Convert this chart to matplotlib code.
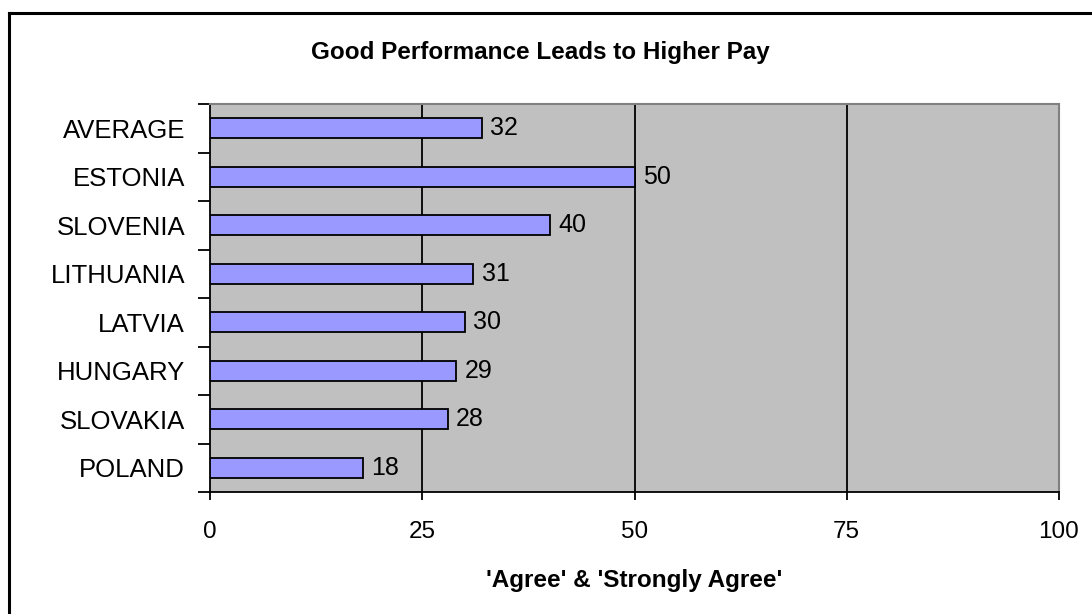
import numpy as np
import matplotlib.pyplot as plt
from matplotlib.lines import Line2D

# =========================
# DATA
# =========================
countries = ["AVERAGE", "ESTONIA", "SLOVENIA", "LITHUANIA", "LATVIA",
             "HUNGARY", "SLOVAKIA", "POLAND"]
values = [32, 50, 40, 31, 30, 29, 28, 18]
xticks = [0, 25, 50, 75, 100]

title = "Good Performance Leads to Higher Pay"
xlabel = "'Agree' & 'Strongly Agree'"

# =========================
# STYLE
# =========================
plt.rcParams["font.family"] = ["Liberation Sans", "DejaVu Sans"]

W, H = 1092, 614
fig = plt.figure(figsize=(W / 100, H / 100), dpi=100)
ax = fig.add_axes([210 / W, 1 - 492 / H, (1059 - 210) / W, (492 - 104) / H])
ax.set_facecolor("#C0C0C0")

n = len(countries)
y = np.arange(n)
ax.barh(y, values, height=0.42, color="#9999FF", edgecolor="black",
        linewidth=1.3, zorder=3)

ax.set_xlim(0, 100)
ax.set_ylim(n - 0.5, -0.5)

# gridlines
for t in xticks[1:-1]:
    ax.axvline(t, color="black", linewidth=1.3, zorder=1)

# ticks
ax.set_xticks(xticks)
ax.set_xticklabels([str(t) for t in xticks], fontsize=17.5)
ax.tick_params(axis="x", direction="out", length=6, width=1.3, pad=15)

ax.set_yticks(y)
ax.set_yticklabels(countries, fontsize=18.5)
ax.tick_params(axis="y", which="major", length=0, pad=18)
ax.set_yticks(np.arange(n + 1) - 0.5, minor=True)
ax.tick_params(axis="y", which="minor", direction="out", length=9, width=1.3)

for s in ["left", "bottom"]:
    ax.spines[s].set_color("black")
    ax.spines[s].set_linewidth(1.3)
for s in ["top", "right"]:
    ax.spines[s].set_color("#808080")
    ax.spines[s].set_linewidth(1.5)

# value labels
for i, v in enumerate(values):
    ax.text(v + 1.0, i, str(v), va="center", ha="left", fontsize=18, zorder=4)

fig.text(540 / W, 1 - 53 / H, title, ha="center", va="center",
         fontsize=17.5, fontweight="bold")
fig.text(634 / W, 1 - 580 / H, xlabel, ha="center", va="center",
         fontsize=17.5, fontweight="bold")

# outer frame (left + top only)
fig.add_artist(Line2D([9 / W, 9 / W], [0, 1 - 13 / H], color="black",
                      linewidth=2.2, transform=fig.transFigure))
fig.add_artist(Line2D([9 / W, 1], [1 - 13 / H, 1 - 13 / H], color="black",
                      linewidth=2.2, transform=fig.transFigure))

fig.savefig("out.png", dpi=100)
